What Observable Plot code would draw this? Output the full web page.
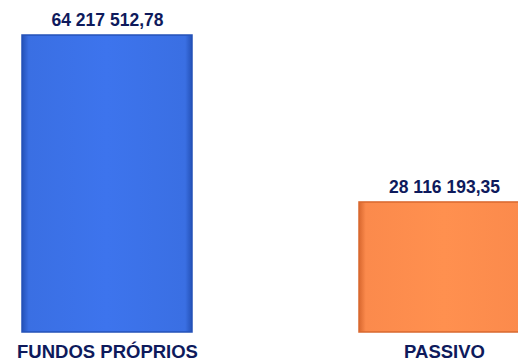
<!DOCTYPE html>
<html>
<head>
<meta charset="utf-8">
<script src="https://cdn.jsdelivr.net/npm/d3@7"></script>
<script src="https://cdn.jsdelivr.net/npm/@observablehq/plot@0.6"></script>
<style>
  html, body { margin: 0; padding: 0; background: #fff; overflow: hidden; }
  #chart svg { max-width: none; display: block; }
</style>
</head>
<body>
<div id="chart"></div>
<script>
const categories = ["FUNDOS PRÓPRIOS", "PASSIVO"];
const values = [64217512.78, 28116193.35];
const colors = ["#3a6fe3", "#fb8a4c"];
const edgeColors = ["#2552b8", "#d9682f"];

const data = categories.map((c, i) => ({category: c, value: values[i], color: colors[i]}));
const fmt = d3.formatLocale({decimal: ",", thousands: " ", grouping: [3], currency: ["", ""]}).format(",.2f");

const ink = "#0e1a5c";

const chart = Plot.plot({
  width: 518,
  height: 362,
  margin: 0,
  style: {background: "#fff", overflow: "hidden"},
  x: {domain: categories, range: [21, 529], paddingInner: 0.497, paddingOuter: 0, axis: null},
  y: {domain: [0, values[0]], range: [332, 35], axis: null},
  marks: [
    ...data.map((d, i) => Plot.barY([d], {x: "category", y: "value", fill: `url(#grad${i})`, stroke: edgeColors[i], strokeWidth: 1.5})),
    Plot.text(data, {x: "category", y: "value", text: d => fmt(d.value), dy: -15,
      fill: ink, fontWeight: "bold", fontSize: 17.5, fontFamily: "'Liberation Sans', Arial, sans-serif"}),
    Plot.text(data, {x: "category", y: () => 0, text: "category", dy: 20,
      fill: ink, fontWeight: "bold", fontSize: 18.5, fontFamily: "'Liberation Sans', Arial, sans-serif"})
  ]
});

const svg = d3.select(chart);
const defs = svg.insert("defs", ":first-child");
colors.forEach((c, i) => {
  const g = defs.append("linearGradient").attr("id", `grad${i}`).attr("x1", 0).attr("x2", 1).attr("y1", 0).attr("y2", 0);
  g.append("stop").attr("offset", "0%").attr("stop-color", edgeColors[i]);
  g.append("stop").attr("offset", "4%").attr("stop-color", c);
  g.append("stop").attr("offset", "50%").attr("stop-color", d3.color(c).brighter(0.12).formatHex());
  g.append("stop").attr("offset", "96%").attr("stop-color", c);
  g.append("stop").attr("offset", "100%").attr("stop-color", edgeColors[i]);
});
document.getElementById("chart").appendChild(chart);
</script>
</body>
</html>
